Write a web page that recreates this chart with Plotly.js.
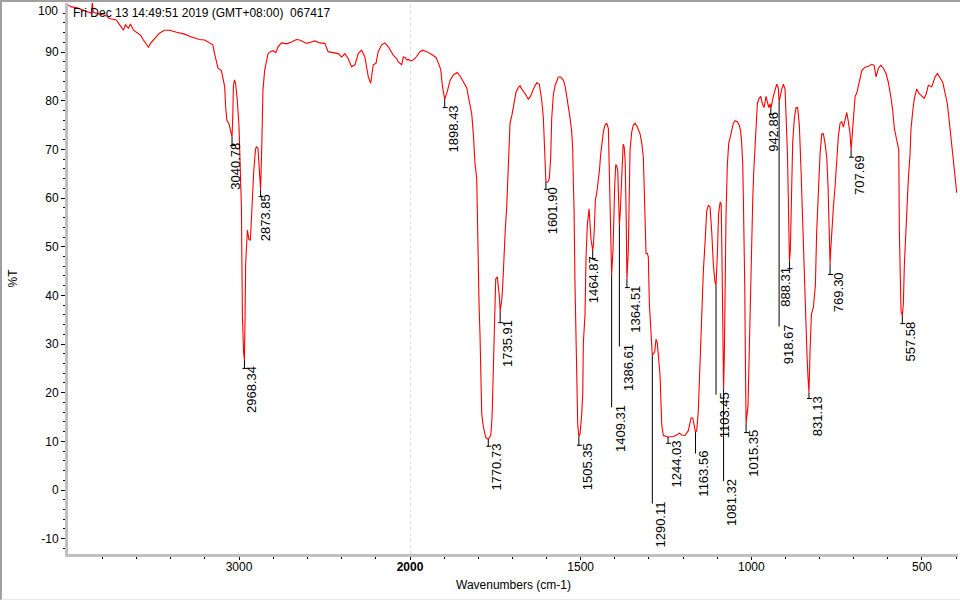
<!DOCTYPE html>
<html>
<head>
<meta charset="utf-8">
<script src="https://cdn.plot.ly/plotly-3.0.1.min.js"></script>
<style>
  html, body { margin: 0; padding: 0; background: #ffffff; }
  #wrap { position: relative; width: 960px; height: 600px; overflow: hidden; }
  #chart { width: 960px; height: 600px; }
  #frame { position: absolute; left: 0; top: 0; width: 960px; height: 600px; box-sizing: border-box;
           border-top: 2px solid #a0a0a0; border-left: 2px solid #a0a0a0; border-bottom: 1px solid #e6e6e6;
           pointer-events: none; }
</style>
</head>
<body>
<div id="wrap"><div id="chart"></div><div id="frame"></div></div>
<script>
// ---- spectrum (wavenumber cm-1, %T) ----
const wavenumber = [
4000,3981,3945.5,3910,3887,3863.5,3857.6,3852,3817,3781,3758,3740,3717,3693.5,3676,3664,3647,3635,3617,3600,
3576,3559,3541,3529.5,3518,3494,3465,3436,3406,3365,3318.5,3277.5,3231,3201,3172,3153,3143,3133,3123,3103,
3090,3084,3078,3071,3059,3051,3040.8,3036,3033,3027,3020,3010,3000,2992,2986,2983,2980,2973,2968.3,2965,
2961,2951,2942,2933.5,2928,2922,2914,2904,2898,2889,2883,2873.9,2867,2863,2860,2850,2840,2830,2816,2801,
2785,2772,2752,2722.5,2693,2664,2645,2605,2576,2557,2527,2498,2479,2449.5,2420,2400,2381,2362,2342,2322,
2303,2283,2264,2244,2230,2215,2199,2186,2166,2146.5,2127,2098,2078,2069,2049,2039,2029,2019,2010,2000,
1995,1985.4,1970.7,1962.8,1951,1936.4,1923.8,1917,1910,1905.4,1900.4,1898.43,1890.7,1882.8,1873,1861.4,1853.5,1843.8,1833.9,1829.2,
1824.2,1819.2,1814.5,1809.5,1804.6,1802.8,1799.9,1797.8,1794.9,1792.8,1789.9,1785.2,1778.2,1770.73,1763.6,1759.7,1757.7,1755.9,1753,1748.9,
1744.2,1741.3,1738.4,1735.91,1731.3,1728.4,1724.6,1720.8,1716.7,1713.7,1710.8,1707,1701.1,1695.3,1689.4,1682.7,1677.7,1672.7,1663,1653.4,
1646.4,1638.7,1628.8,1621.1,1614.1,1609.4,1606.5,1604.4,1601.9,1596.5,1591.9,1587.8,1584.8,1580.1,1575.2,1565.5,1558.4,1550.8,1545.9,1540.9,
1536.2,1531.2,1526.2,1523.3,1521.5,1519.5,1516.6,1513.6,1511.6,1508.6,1505.35,1501.9,1496.9,1493.9,1492.2,1487.3,1484.3,1480.5,1475.5,1472.6,
1469.7,1464.87,1462.9,1460,1457,1452.9,1448.2,1445.3,1441.2,1437.4,1433.6,1428.6,1423.6,1418.9,1416,1414,1411,1409.31,1405.3,1403.2,
1400.3,1397.3,1394.4,1391.5,1389.8,1386.61,1384.3,1381.4,1378.4,1375.5,1372.6,1369.7,1366.8,1364.51,1360.4,1358.3,1355.4,1350.4,1345.7,1340.8,
1334,1326.1,1321.1,1316.4,1313.5,1310.5,1308.5,1304.7,1301.8,1298.8,1294.7,1292.9,1290.11,1283.1,1279.3,1275.5,1272.5,1267.5,1262.5,1257.8,
1247.8,1244.03,1228.5,1218.6,1211,1204,1194.3,1184.6,1176.7,1171.7,1163.56,1160,1155.3,1150.3,1145.3,1140.6,1135.7,1130.7,1126,1121,
1116,1111.3,1106.4,1103.45,1099.1,1096.2,1091.3,1088.4,1086.3,1084.6,1081.32,1079.2,1077.1,1074.1,1070.3,1066.2,1062.4,1057.4,1052.7,1047.8,
1041,1035.2,1031.1,1028.2,1025.2,1023.3,1021.4,1019.3,1017.6,1015.35,1009.7,1006.7,1003.8,999.9,995.9,992.9,989.1,986.2,982.4,977.4,
972.4,967.7,962.8,956.9,953.1,949,945.2,942.86,935.6,930.6,925.7,921,918.67,910.9,906.2,901.2,898.3,894.5,891.5,888.31,
885.7,882.7,878.9,873.9,869,864.3,859.3,854.3,849.6,844.6,839.7,836.7,833.8,831.13,827.9,824.1,818.2,812.4,808.6,804.5,
798.7,793.7,789,784.1,779.1,775.3,772.4,769.3,767.4,763.4,759.6,754.6,749.6,744.9,740,735,730.3,725.4,720.4,715.7,
710.7,707.69,700.9,696,691,686.3,681.3,676.4,666.7,657,647.1,640.4,634.5,627.8,620.8,613.2,605.3,598.6,591.5,585.6,
580.9,573.9,568.1,566.3,564.3,561.4,557.58,554.6,551.6,547.5,544.6,539.9,535,532.1,527.1,522.4,515.4,508.7,500.8,494,
488.1,481.4,471.4,461.8,455,447.1,439.2,432.5,425.7,419.9,415.8,409.9,406.1,402.3,398.2
];
const transmittance = [
99.7,99.3,99.1,98.6,98.2,98.0,100.2,98.2,97.8,97.6,96.9,96.7,96.6,95.4,94.5,95.6,94.9,95.8,94.5,94.1,
93.5,92.5,91.5,91.0,91.8,92.7,93.9,94.5,94.5,94.1,93.7,93.1,92.6,92.5,91.8,91.5,89.7,88.0,86.7,86.2,
84.3,82.9,78.8,76.0,75.3,74.0,72.6,77.4,82.9,84.3,83.6,80.1,74.7,65.1,58.2,46.6,35.6,28.1,26.7,34.9,
46.6,53.4,51.5,51.4,55.5,61.7,65.4,69.9,70.6,70.2,66.4,61.7,70.6,78.1,82.2,86.3,88.4,89.7,90.1,90.3,
89.9,91.1,91.9,91.7,92.1,92.6,92.5,91.8,92.1,92.3,91.9,91.8,90.1,89.9,89.7,89.0,89.7,88.7,87.0,87.4,
89.7,90.4,89.0,84.9,83.6,87.4,87.7,90.1,91.5,91.9,91.1,89.4,88.7,88.0,87.4,89.0,88.9,88.4,88.5,88.3,
88.2,88.7,90.1,90.4,90.1,89.5,88.9,87.8,86.4,83.1,80.9,80.3,82.0,84.2,85.3,85.8,85.1,83.8,82.7,80.9,
78.7,77.3,73.2,67.0,64.0,55.9,50.8,38.3,31.7,20.0,15.6,13.0,10.8,10.4,11.2,14.8,20.0,27.3,34.6,43.4,
43.8,42.0,39.8,36.8,39.0,42.0,49.3,53.7,58.2,64.0,71.3,75.4,77.2,79.8,81.8,82.7,83.1,82.4,81.5,80.3,
81.0,82.4,83.7,83.4,80.1,76.5,71.3,66.9,63.3,63.3,64.0,68.4,76.5,81.2,83.1,84.9,84.9,84.2,83.1,80.9,
79.0,76.5,73.6,69.9,63.3,58.2,42.0,31.7,22.9,13.4,11.0,11.5,15.6,20.0,30.2,36.1,47.9,54.5,57.8,55.2,
51.5,49.3,50.1,53.7,59.6,61.1,63.3,65.5,69.1,71.3,73.6,75.0,75.4,74.3,66.9,59.6,53.0,44.2,49.3,56.7,
62.5,66.9,66.6,65.8,62.5,54.5,56.7,62.5,68.4,71.1,70.6,67.7,56.7,43.4,49.3,60.3,69.9,73.6,75.0,75.4,
74.6,73.2,71.3,68.4,61.8,56.7,48.6,48.6,47.9,38.3,32.5,29.5,27.7,28.4,31.0,30.2,27.3,23.6,13.4,11.2,
11.0,10.9,11.0,11.3,11.7,11.3,11.2,12.2,14.8,14.8,11.9,12.2,16.3,27.3,36.1,44.9,50.8,57.4,58.5,58.2,
53.0,46.4,42.7,42.0,49.3,56.7,59.2,58.8,49.3,34.6,20.7,27.3,42.0,56.7,66.9,71.3,72.4,74.3,75.4,75.9,
75.7,75.0,73.6,71.3,66.9,59.6,52.3,42.0,28.0,13.7,17.4,26.6,32.5,50.8,59.6,65.5,71.3,75.7,79.4,80.5,
80.9,79.4,78.6,80.9,79.8,78.6,79.4,78.4,80.9,82.4,83.4,82.7,79.8,82.4,83.4,82.4,77.9,69.9,59.6,47.0,
49.3,62.5,71.3,76.5,78.6,78.6,75.0,65.5,54.5,45.6,34.6,27.3,22.9,20.0,28.8,36.1,37.6,42.0,53.0,61.0,
69.1,73.2,73.2,71.3,68.4,62.5,50.8,46.4,49.3,55.2,58.2,62.5,67.7,72.8,75.4,75.7,74.6,76.5,77.6,75.7,
73.2,69.9,77.2,80.9,81.6,83.1,85.3,86.2,86.9,87.1,87.5,87.3,84.9,86.7,87.3,86.7,85.6,83.8,80.9,77.9,
74.3,72.1,69.9,53.0,44.2,36.8,35.8,38.3,46.4,53.0,59.6,64.0,69.1,74.3,77.9,80.5,82.4,81.5,81.0,80.5,
81.3,83.2,82.9,84.9,85.6,84.6,83.8,81.6,79.4,75.7,72.8,69.1,66.2,63.3,61.1
];

// ---- peak picks ----
const peakWn = [3040.78,2968.34,2873.85,1898.43,1770.73,1735.91,1601.90,1505.35,1464.87,1409.31,1386.61,1364.51,1290.11,
                1244.03,1163.56,1103.45,1081.32,1015.35,942.86,918.67,888.31,831.13,769.30,707.69,557.58];
const peakT  = [72.6,26.7,61.7,80.3,10.4,36.8,63.3,11.0,49.3,44.2,54.5,43.4,27.7,
                10.9,11.9,42.0,20.7,13.7,78.4,79.8,47.0,20.0,46.4,69.9,35.8];
const peakLabels = ['3040.78','2968.34','2873.85','1898.43','1770.73','1735.91','1601.90','1505.35','1464.87','1409.31',
                    '1386.61','1364.51','1290.11','1244.03','1163.56','1103.45','1081.32','1015.35','942.86','918.67',
                    '888.31','831.13','769.30','707.69','557.58'];
// where each label's text starts (top end, %T) and its horizontal shift (layout, px)
const labelTop = [71.5,25.7,61.0,79.3,9.7,35.1,62.5,9.9,48.3,17.7,30.2,42.3,-2.1,
                  10.3,8.2,20.3,2.5,12.5,77.9,34.3,46.2,19.5,45.0,69.1,34.9];
const labelDx  = [4,7,5,9,8,8,7,8,1,9,9,9,8,8,8,8,8,8,2,9,-4,8,8,9,8];

// ---- axis ticks ----
const yTickVals = [-10,0,10,20,30,40,50,60,70,80,90];
const x1TickVals = [3000, 2000];
const x1TickText = ['3000', '<b>2000</b>'];
const x2TickVals = [1500, 1000, 500];
const x2TickText = ['1500', '1000', '500'];

const FONT = 'Liberation Sans, Arial, sans-serif';

// split into the two axis segments (4000-2000 compressed, 2000-400 expanded)
const hiX = [], hiY = [], loX = [], loY = [];
for (let i = 0; i < wavenumber.length; i++) {
  if (wavenumber[i] >= 2000) { hiX.push(wavenumber[i]); hiY.push(transmittance[i]); }
  if (wavenumber[i] <= 2000) { loX.push(wavenumber[i]); loY.push(transmittance[i]); }
}

const lineStyle = { color: '#ff0000', width: 1.1 };
const traces = [
  { x: hiX, y: hiY, xaxis: 'x', yaxis: 'y', type: 'scatter', mode: 'lines', line: lineStyle, hoverinfo: 'skip' },
  { x: loX, y: loY, xaxis: 'x2', yaxis: 'y', type: 'scatter', mode: 'lines', line: lineStyle, hoverinfo: 'skip' }
];

const minorX1 = [], minorX2 = [], minorY = [];
for (let v = 4000; v >= 2000; v -= 200) if (v % 1000 !== 0) minorX1.push(v);
for (let v = 2000; v >= 400; v -= 100) if (v % 500 !== 0) minorX2.push(v);
for (let v = -12; v <= 100; v += 2) if (v % 10 !== 0) minorY.push(v);

const shapes = [
  { type: 'line', xref: 'x2', yref: 'paper', x0: 2000, x1: 2000, y0: 0, y1: 1,
    line: { color: '#bdbdbd', width: 1, dash: '3px,3px' }, layer: 'below' }
];
const annotations = [];
for (let i = 0; i < peakWn.length; i++) {
  const xr = peakWn[i] >= 2000 ? 'x' : 'x2';
  const yEnd = labelTop[i] - 0.7;
  shapes.push({ type: 'line', xref: xr, yref: 'y', x0: peakWn[i], x1: peakWn[i],
                y0: peakT[i], y1: yEnd, line: { color: '#000000', width: 1 } });
  if (peakT[i] - labelTop[i] < 3) {
    shapes.push({ type: 'line', xref: xr, yref: 'y', xsizemode: 'pixel', xanchor: peakWn[i], x0: -2, x1: 3,
                  y0: yEnd, y1: yEnd, line: { color: '#000000', width: 1 } });
  }
  annotations.push({ xref: xr, yref: 'y', x: peakWn[i], y: labelTop[i], text: peakLabels[i],
                     textangle: -90, xanchor: 'center', yanchor: 'top', xshift: labelDx[i],
                     showarrow: false, borderpad: 0, font: { family: FONT, size: 13, color: '#000000' } });
}
annotations.push(
  { xref: 'paper', yref: 'paper', x: 0.0034, y: 0.982, xanchor: 'left', yanchor: 'middle', showarrow: false,
    text: 'Fri Dec 13 14:49:51 2019 (GMT+08:00)  067417', font: { family: FONT, size: 12, color: '#000000' } },
  { xref: 'paper', yref: 'paper', x: -0.0085, y: 0.9855, xanchor: 'right', yanchor: 'middle', showarrow: false,
    text: '100', font: { family: FONT, size: 12, color: '#000000' } },
  { xref: 'paper', yref: 'paper', x: -0.0629, y: 0.5, xanchor: 'center', yanchor: 'middle', showarrow: false,
    textangle: -90, text: '%T', font: { family: FONT, size: 12, color: '#000000' } },
  { xref: 'paper', yref: 'paper', x: 0.5, y: -0.0563, xanchor: 'center', yanchor: 'middle', showarrow: false,
    text: 'Wavenumbers (cm-1)', font: { family: FONT, size: 12, color: '#000000' } }
);

const axisCommon = {
  showline: true, linecolor: '#c0c0c0', linewidth: 3, mirror: false,
  showgrid: false, zeroline: false, ticks: 'outside', ticklen: 3, tickwidth: 1, tickcolor: '#000000',
  tickfont: { family: FONT, size: 12, color: '#000000' }, tickmode: 'array', fixedrange: true
};

const layout = {
  width: 960, height: 600,
  margin: { l: 68, r: 2, t: 3, b: 46 },
  paper_bgcolor: '#ffffff', plot_bgcolor: '#ffffff',
  showlegend: false,
  xaxis: Object.assign({}, axisCommon, {
    domain: [0, 0.3843], range: [4000, 2000], anchor: 'y', ticklabelstandoff: -3,
    tickvals: x1TickVals, ticktext: x1TickText,
    minor: { tickmode: 'array', tickvals: minorX1, ticks: 'outside', ticklen: 2, tickcolor: '#000000' }
  }),
  xaxis2: Object.assign({}, axisCommon, {
    domain: [0.3843, 1], range: [2000, 394.5], anchor: 'y', ticklabelstandoff: -3,
    tickvals: x2TickVals, ticktext: x2TickText,
    minor: { tickmode: 'array', tickvals: minorX2, ticks: 'outside', ticklen: 2, tickcolor: '#000000' }
  }),
  yaxis: Object.assign({}, axisCommon, {
    range: [-13.15, 100.1], anchor: 'x',
    tickvals: yTickVals, ticktext: yTickVals.map(String), ticklen: 4,
    minor: { tickmode: 'array', tickvals: minorY, ticks: 'outside', ticklen: 2, tickcolor: '#000000' }
  }),
  shapes: shapes,
  annotations: annotations
};

Plotly.newPlot('chart', traces, layout, { displayModeBar: false, staticPlot: true });
</script>
</body>
</html>
